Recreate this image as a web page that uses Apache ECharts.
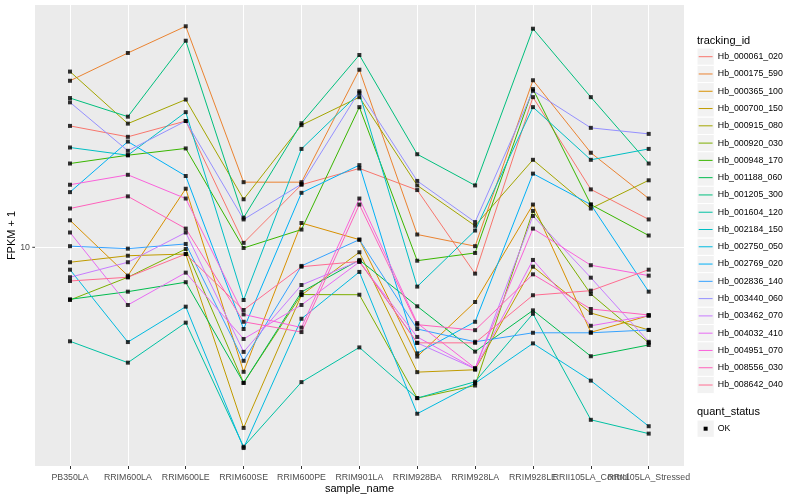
<!DOCTYPE html>
<html>
<head>
<meta charset="utf-8">
<script src="https://cdn.jsdelivr.net/npm/echarts@6.0.0/dist/echarts.min.js"></script>
<style>
html,body{margin:0;padding:0;background:#ffffff;}
#chart{width:800px;height:500px;}
</style>
</head>
<body>
<div id="chart"></div>
<script>
// ---------------- data ----------------
const categories = ["PB350LA","RRIM600LA","RRIM600LE","RRIM600SE","RRIM600PE","RRIM901LA",
  "RRIM928BA","RRIM928LA","RRIM928LE","RRII105LA_Control","RRII105LA_Stressed"];

const trackingIds = ["Hb_000061_020","Hb_000175_590","Hb_000365_100","Hb_000700_150","Hb_000915_080",
  "Hb_000920_030","Hb_000948_170","Hb_001188_060","Hb_001205_300","Hb_001604_120","Hb_002184_150",
  "Hb_002750_050","Hb_002769_020","Hb_002836_140","Hb_003440_060","Hb_003462_070","Hb_004032_410",
  "Hb_004951_070","Hb_008556_030","Hb_008642_040"];

// FPKM + 1 per sample (order of categories)
const Hb_000061_020 = [29.3, 26.6, 30.6, 10.4, 17.4, 20.1, 16.6, 7.92, 37.8, 16.7, 12.8];
const Hb_000175_590 = [43.7, 55.9, 70.8, 17.8, 17.8, 48.2, 11.2, 10.1, 43.9, 23.1, 15.4];
const Hb_000365_100 = [12.7, 7.78, 16.8, 3.32, 12.4, 10.7, 3.80, 6.16, 14.6, 4.71, 5.46];
const Hb_000700_150 = [8.76, 9.28, 9.42, 2.02, 6.55, 9.57, 3.31, 3.38, 8.42, 5.59, 4.81];
const Hb_000915_080 = [47.4, 29.9, 37.0, 15.3, 29.5, 37.8, 17.3, 12.1, 21.7, 14.1, 18.1];
const Hb_000920_030 = [6.27, 7.67, 9.85, 3.01, 6.58, 6.57, 2.63, 2.94, 13.8, 6.61, 4.29];
const Hb_000948_170 = [21.0, 22.6, 24.0, 9.94, 11.7, 34.6, 8.88, 9.51, 40.6, 14.6, 11.1];
const Hb_001188_060 = [6.31, 6.75, 7.34, 3.01, 6.73, 8.94, 5.93, 3.97, 5.72, 3.81, 4.21];
const Hb_001205_300 = [37.5, 31.8, 62.3, 13.0, 30.0, 54.9, 22.8, 17.3, 69.3, 37.8, 21.0];
const Hb_001604_120 = [4.35, 3.60, 5.13, 1.71, 3.03, 4.12, 2.63, 3.04, 5.55, 2.17, 1.92];
const Hb_002184_150 = [24.2, 22.6, 33.1, 6.27, 23.9, 39.2, 7.06, 11.6, 34.6, 21.7, 23.9];
const Hb_002750_050 = [8.20, 4.32, 5.91, 1.69, 5.31, 8.04, 2.29, 3.00, 4.27, 3.07, 2.05];
const Hb_002769_020 = [16.3, 25.5, 18.8, 4.85, 16.2, 20.7, 3.91, 5.17, 19.2, 14.6, 6.75];
const Hb_002836_140 = [10.1, 9.88, 10.3, 3.66, 8.48, 10.7, 4.85, 4.33, 4.69, 4.69, 4.81];
const Hb_003440_060 = [36.1, 23.5, 30.6, 12.8, 17.5, 39.8, 18.0, 12.5, 40.0, 28.8, 27.3];
const Hb_003462_070 = [7.67, 8.76, 11.4, 3.96, 7.16, 8.86, 4.29, 3.41, 13.2, 7.64, 4.33];
const Hb_004032_410 = [11.4, 6.00, 7.99, 4.44, 6.00, 8.78, 4.52, 3.41, 8.94, 4.99, 5.46];
const Hb_004951_070 = [17.4, 19.0, 15.4, 5.52, 4.91, 15.4, 5.11, 3.43, 11.8, 8.53, 7.78];
const Hb_008556_030 = [14.1, 15.7, 11.8, 5.17, 4.72, 14.6, 5.04, 4.80, 7.87, 5.79, 5.49];
const Hb_008642_040 = [7.42, 7.67, 9.42, 5.74, 8.42, 8.82, 4.29, 4.29, 6.54, 6.81, 8.20];

const seriesValues = [Hb_000061_020, Hb_000175_590, Hb_000365_100, Hb_000700_150, Hb_000915_080,
  Hb_000920_030, Hb_000948_170, Hb_001188_060, Hb_001205_300, Hb_001604_120, Hb_002184_150,
  Hb_002750_050, Hb_002769_020, Hb_002836_140, Hb_003440_060, Hb_003462_070, Hb_004032_410,
  Hb_004951_070, Hb_008556_030, Hb_008642_040];

const yTickLabels = [10];
const quantStatus = ["OK"];
const xTitle = "sample_name";
const yTitle = "FPKM + 1";

// ---------------- style ----------------
const palette = ["#F8766D","#EA8331","#D89000","#C09B00","#A3A500","#7CAE00","#39B600","#00BB4E",
  "#00BF7D","#00C1A3","#00BFC4","#00BAE0","#00B0F6","#35A2FF","#9590FF","#C77CFF","#E76BF3",
  "#FA62DB","#FF62BC","#FF6C91"];
const FONT = "'Liberation Sans', Arial, Helvetica, sans-serif";
const yMin = 1.4414, yMax = 85.49;   // panel range of the log axis (incl. expansion)
const POINT = 4;

const chart = echarts.init(document.getElementById('chart'), null, {renderer: 'canvas'});

const lineSeries = seriesValues.map((vals, i) => ({
  type: 'line', name: trackingIds[i], xAxisIndex: 1, yAxisIndex: 1,
  data: vals, symbol: 'none', showSymbol: false, silent: true,
  lineStyle: {color: palette[i], width: 1}, itemStyle: {color: palette[i]},
  z: 2, animation: false
}));

const pointSeries = {
  type: 'scatter', name: quantStatus[0], xAxisIndex: 1, yAxisIndex: 1,
  symbol: 'rect', symbolSize: POINT, silent: true,
  itemStyle: {color: '#000000'}, z: 3, animation: false,
  data: seriesValues.flatMap(vals => vals.map((v, j) => [j, v]))
};

// legend (ggplot style), built from the names/palette
const graphics = [];
const keyX = 697, keySize = 17.28, firstKey = 56.7;
graphics.push({type: 'text', x: keyX, y: 40.5, silent: true,
  style: {text: 'tracking_id', fontSize: 11, fontFamily: FONT, fill: '#000', verticalAlign: 'middle', align: 'left'}});
trackingIds.forEach((id, i) => {
  const cy = firstKey + i * keySize;
  graphics.push({type: 'rect', silent: true, shape: {x: keyX, y: cy - keySize / 2, width: keySize, height: keySize},
    style: {fill: '#F2F2F2', stroke: '#FFFFFF', lineWidth: 1}});
  graphics.push({type: 'line', silent: true, shape: {x1: keyX + 1.7, y1: cy, x2: keyX + keySize - 1.7, y2: cy},
    style: {stroke: palette[i], lineWidth: 1}});
  graphics.push({type: 'text', silent: true, x: keyX + keySize + 3.5, y: cy,
    style: {text: id, fontSize: 8.8, fontFamily: FONT, fill: '#000', verticalAlign: 'middle', align: 'left'}});
});
graphics.push({type: 'text', x: keyX, y: 412, silent: true,
  style: {text: 'quant_status', fontSize: 11, fontFamily: FONT, fill: '#000', verticalAlign: 'middle', align: 'left'}});
{
  const cy = 428.7;
  graphics.push({type: 'rect', silent: true, shape: {x: keyX, y: cy - keySize / 2, width: keySize, height: keySize},
    style: {fill: '#F2F2F2', stroke: '#FFFFFF', lineWidth: 1}});
  graphics.push({type: 'rect', silent: true, shape: {x: keyX + keySize / 2 - POINT / 2, y: cy - POINT / 2, width: POINT, height: POINT},
    style: {fill: '#000'}});
  graphics.push({type: 'text', silent: true, x: keyX + keySize + 3.5, y: cy,
    style: {text: quantStatus[0], fontSize: 8.8, fontFamily: FONT, fill: '#000', verticalAlign: 'middle', align: 'left'}});
}
// axis titles
graphics.push({type: 'text', silent: true, x: 359.5, y: 489,
  style: {text: xTitle, fontSize: 11, fontFamily: FONT, fill: '#000', verticalAlign: 'middle', align: 'center'}});
graphics.push({type: 'text', silent: true, x: 12, y: 235.5, rotation: Math.PI / 2,
  style: {text: yTitle, fontSize: 11, fontFamily: FONT, fill: '#000', verticalAlign: 'middle', align: 'center'}});

const option = {
  animation: false,
  backgroundColor: '#FFFFFF',
  textStyle: {fontFamily: FONT},
  grid: [
    {left: 35, top: 5, width: 649, height: 461, show: true, backgroundColor: '#EBEBEB', borderWidth: 0,
     containLabel: false, outerBoundsMode: 'none'},
    {left: 70, top: 5, width: 578.7, height: 461, show: false, containLabel: false, outerBoundsMode: 'none'}
  ],
  xAxis: [
    {type: 'value', gridIndex: 0, show: false, min: 0, max: 1},
    {type: 'category', gridIndex: 1, data: categories, boundaryGap: false,
     axisLine: {show: false},
     axisTick: {show: true, interval: 0, length: 3, lineStyle: {color: '#333333', width: 1}},
     axisLabel: {interval: 0, hideOverlap: false, color: '#4D4D4D', fontSize: 8.8, margin: 7, fontFamily: FONT},
     splitLine: {show: true, interval: 0, lineStyle: {color: '#FFFFFF', width: 1}}}
  ],
  yAxis: [
    {type: 'log', logBase: 10, gridIndex: 0, min: yMin, max: yMax,
     axisLine: {show: false},
     axisTick: {show: false},
     axisLabel: {color: '#4D4D4D', fontSize: 8.8, margin: 5, fontFamily: FONT,
       formatter: v => yTickLabels.some(t => Math.abs(t - v) < 1e-6) ? String(Math.round(v)) : ''},
     splitLine: {show: true, showMinLine: false, showMaxLine: false, lineStyle: {color: '#FFFFFF', width: 1}}},
    {type: 'log', logBase: 10, gridIndex: 1, min: yMin, max: yMax, show: false,
     splitLine: {show: false}}
  ],
  series: [...lineSeries, pointSeries],
  graphic: graphics
};
chart.setOption(option);

// tick marks of the y axis only at labelled values, placed through the axis scale
const tickGraphics = yTickLabels.map(t => {
  const py = chart.convertToPixel({yAxisIndex: 0}, t);
  return {type: 'line', silent: true, shape: {x1: 32.3, y1: py, x2: 35, y2: py},
    style: {stroke: '#333333', lineWidth: 1}};
});
chart.setOption({graphic: graphics.concat(tickGraphics)});
</script>
</body>
</html>
